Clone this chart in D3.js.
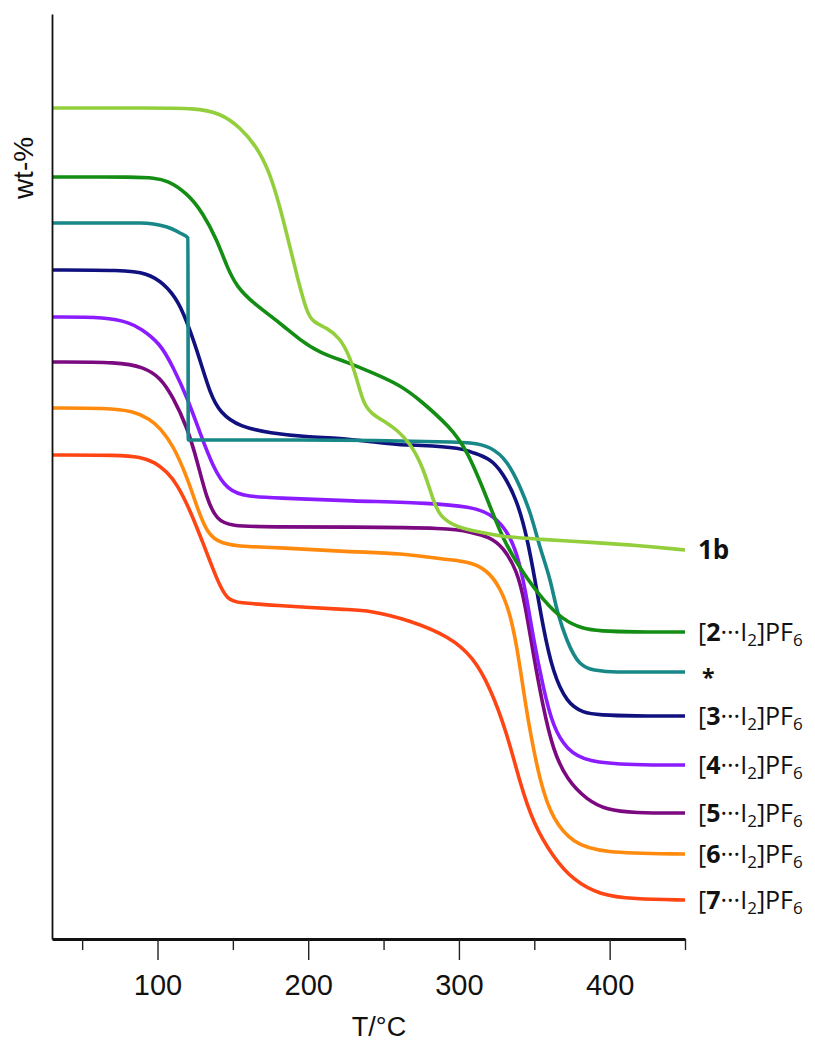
<html>
<head>
<script src="https://d3js.org/d3.v7.min.js"></script>
<style>
  body { margin: 0; background: #fff; }
</style>
</head>
<body>
<svg id="chart" width="815" height="1044"></svg>
<script>
// TGA curves, [T in °C, wt-% (offset, arbitrary units)]
const tga1b = [[30,83.1],[95,83.1],[125,83.1],[141.5,82.6],[154.7,81.2],[166,79.2],[174.6,76.6],[181.3,73.2],[187.9,69.2],[193.2,65.9],[199.2,62.6],[203.2,61.7],[212.5,61.1],[221.1,60.1],[227.7,58.2],[232.4,55.9],[236.4,53.7],[241,52.6],[252.3,51.6],[258.9,50.9],[267.5,49.6],[276.2,47.2],[282.8,43.9],[287.4,42.2],[298.7,41.2],[307.4,40.9],[329.2,40.2],[351.8,40.0],[393.6,39.6],[415.5,39.4],[450,38.9]];
const tga2 = [[30,76.2],[88.4,76.2],[97,76.1],[106.3,75.9],[119.6,74.6],[130.2,72.6],[139.5,69.9],[146.1,67.2],[152.7,65.2],[163.4,63.6],[181.3,61.6],[194.5,59.9],[207.8,58.6],[225.7,57.7],[243,56.6],[260.9,55.4],[274.2,53.9],[294.1,51.2],[305.4,48.9],[318.6,44.1],[329.2,39.9],[342.5,36.6],[355.8,33.9],[369,31.9],[382.3,31.0],[393.6,30.8],[415.5,30.7],[450,30.7]];
const tgaStar = [[30,71.6],[88.4,71.6],[106.3,71.2],[114.9,70.6],[120.2,70.1],[120.4,49.9],[194.5,49.9],[294.1,49.7],[307.4,49.6],[320.6,49.1],[331.9,47.6],[340.5,45.2],[347.2,42.6],[353.8,39.2],[360.4,35.9],[365.7,32.6],[371.7,29.9],[380.3,27.6],[390,26.9],[405,26.7],[450,26.7]];
const tga3 = [[30,66.9],[77,66.9],[93,66.6],[104,65.6],[114,63.8],[121.6,60.9],[128.2,57.9],[134.8,54.6],[141.5,52.6],[154.7,51.2],[174.6,50.6],[199.2,50.2],[221.1,50.1],[243,49.7],[260.9,49.4],[272.2,49.4],[302.7,49.1],[307.4,48.7],[320.6,48.1],[329.2,46.6],[338.5,43.9],[345.2,40.2],[350.5,35.9],[355.8,31.2],[362.4,26.6],[371.7,23.6],[382.3,22.6],[393.6,22.4],[415.5,22.3],[450,22.3]];
const tga4 = [[30,62.2],[66.5,62.2],[81.8,61.6],[88.4,61.1],[101.7,59.6],[110.3,57.2],[119.6,54.2],[128.2,50.6],[136.8,47.2],[146.1,44.9],[159.4,44.2],[183.3,44.1],[227.7,43.8],[282.8,43.6],[307.4,43.2],[320.6,42.6],[331.9,40.9],[338.5,38.6],[343.8,35.2],[349.2,30.2],[355.8,25.2],[362.4,21.2],[371.7,18.9],[385,17.7],[415.5,17.4],[450,17.4]];
const tga5 = [[30,57.7],[75,57.7],[90.4,57.2],[101.7,56.2],[110.3,54.2],[119.6,51.2],[126.2,47.9],[132.8,43.9],[139.5,41.9],[148.1,41.3],[174.6,41.2],[227.7,41.2],[294.1,41.1],[307.4,40.7],[320.6,40.2],[329.2,39.2],[338.5,36.9],[343.8,33.6],[349.2,28.6],[355.8,23.2],[362.4,18.9],[371.7,15.9],[385,13.9],[398.2,12.9],[415.5,12.6],[450,12.6]];
const tga6 = [[30,53.1],[66.5,53.1],[83.7,52.8],[95,52.0],[101.7,51.1],[110.3,49.4],[119.6,46.2],[126.2,43.2],[132.8,40.6],[141.5,39.5],[161.4,39.2],[174.6,39.2],[227.7,38.7],[260.9,38.6],[294.1,37.9],[307.4,37.7],[318.6,36.9],[327.2,35.2],[333.9,32.6],[338.5,29.2],[342.5,25.2],[345.8,21.9],[353.8,15.6],[362.4,11.9],[375.7,9.6],[393.6,8.6],[450,8.5]];
const tga7 = [[30,48.4],[75,48.4],[88.4,48.2],[98.3,47.7],[106.3,46.7],[112.9,45.5],[121.6,42.9],[130.2,39.6],[139.5,35.9],[146.1,33.9],[154.7,33.6],[174.6,33.4],[227.7,32.9],[239,32.9],[267.5,31.9],[294.1,30.2],[309.3,28.2],[320.6,25.2],[331.9,20.6],[340.5,15.6],[349.2,11.6],[362.4,8.2],[375.7,5.9],[393.6,4.4],[415.5,4.0],[450,3.9]];

const seriesKeys   = ['7', '6', '5', '4', '3', '*', '2', '1b'];
const seriesData   = [tga7, tga6, tga5, tga4, tga3, tgaStar, tga2, tga1b];
const seriesColors = ['#ff4513', '#ff8a0d', '#7b0a80', '#8a1cff', '#10107f', '#178787', '#138d13', '#93cf3c'];

const xTicksMajor = [100, 200, 300, 400];
const xTicksMinor = [50, 150, 250, 350, 450];

const svg = d3.select('#chart');

const x = d3.scaleLinear().domain([30, 450]).range([52, 685]);
const y = d3.scaleLinear().domain([0, 92.5]).range([939, 14]);

// curves (the * sample has a vertical drop, so it keeps a monotone curve)
const smoothLine = d3.line()
  .x(d => x(d[0]))
  .y(d => y(d[1]))
  .curve(d3.curveBasis);
const stepLine = d3.line()
  .x(d => x(d[0]))
  .y(d => y(d[1]))
  .curve(d3.curveMonotoneX);

seriesData.forEach((d, i) => {
  svg.append('path')
    .datum(d)
    .attr('d', seriesKeys[i] === '*' ? stepLine : smoothLine)
    .attr('fill', 'none')
    .attr('stroke', seriesColors[i])
    .attr('stroke-width', 3.6)
    .attr('stroke-linejoin', 'round');
});

// axes
const xAxis = svg.append('g')
  .attr('transform', 'translate(0,939)')
  .call(d3.axisBottom(x).tickValues(xTicksMajor).tickSizeInner(21).tickSizeOuter(0).tickPadding(14));
xAxis.select('.domain').attr('stroke', '#111').attr('stroke-width', 3);
xAxis.selectAll('.tick line').attr('stroke', '#222').attr('stroke-width', 1.4);
xAxis.selectAll('.tick text')
  .style('font-family', '"Liberation Sans", Arial, sans-serif')
  .style('font-size', '29px')
  .attr('fill', '#111');

const xMinor = svg.append('g')
  .attr('transform', 'translate(0,939)')
  .call(d3.axisBottom(x).tickValues(xTicksMinor).tickSizeInner(11).tickSizeOuter(0).tickFormat(''));
xMinor.select('.domain').remove();
xMinor.selectAll('.tick line').attr('stroke', '#222').attr('stroke-width', 1.4);

const yAxis = svg.append('g')
  .attr('transform', 'translate(52,0)')
  .call(d3.axisLeft(y).ticks(0).tickSizeOuter(0));
yAxis.select('.domain').attr('stroke', '#111').attr('stroke-width', 1.8);

// axis titles
svg.append('text')
  .attr('x', 379).attr('y', 1036)
  .attr('text-anchor', 'middle')
  .style('font-family', '"Liberation Sans", Arial, sans-serif')
  .style('font-size', '27px')
  .attr('fill', '#111')
  .text('T/°C');

svg.append('text')
  .attr('transform', 'translate(33,168) rotate(-90)')
  .attr('text-anchor', 'middle')
  .style('font-family', '"Liberation Sans", Arial, sans-serif')
  .style('font-size', '28px')
  .attr('fill', '#111')
  .text('wt-%');

// end labels
const labelFont = '"Open Sans", "Noto Sans", sans-serif';
const labelX = 698;
seriesData.forEach((d, i) => {
  const key = seriesKeys[i];
  const yEnd = y(d[d.length - 1][1]);
  const t = svg.append('text')
    .attr('x', key === '*' ? labelX + 4 : labelX)
    .attr('y', yEnd)
    .attr('dy', key === '*' ? '0.62em' : '0.36em')
    .style('font-family', labelFont)
    .style('font-size', '25px')
    .attr('fill', '#111');
  if (key === '1b') {
    t.style('font-size', '26px').style('font-weight', 'bold').text('1b');
  } else if (key === '*') {
    t.style('font-size', '23px').style('font-weight', 'bold').text('*');
  } else {
    t.append('tspan').text('[');
    t.append('tspan').style('font-weight', 'bold').text(key);
    t.append('tspan').text('···I');
    t.append('tspan').attr('dy', '5').style('font-size', '17px').text('2');
    t.append('tspan').attr('dy', '-5').text(']PF');
    t.append('tspan').attr('dy', '5').style('font-size', '17px').text('6');
  }
});
</script>
</body>
</html>
